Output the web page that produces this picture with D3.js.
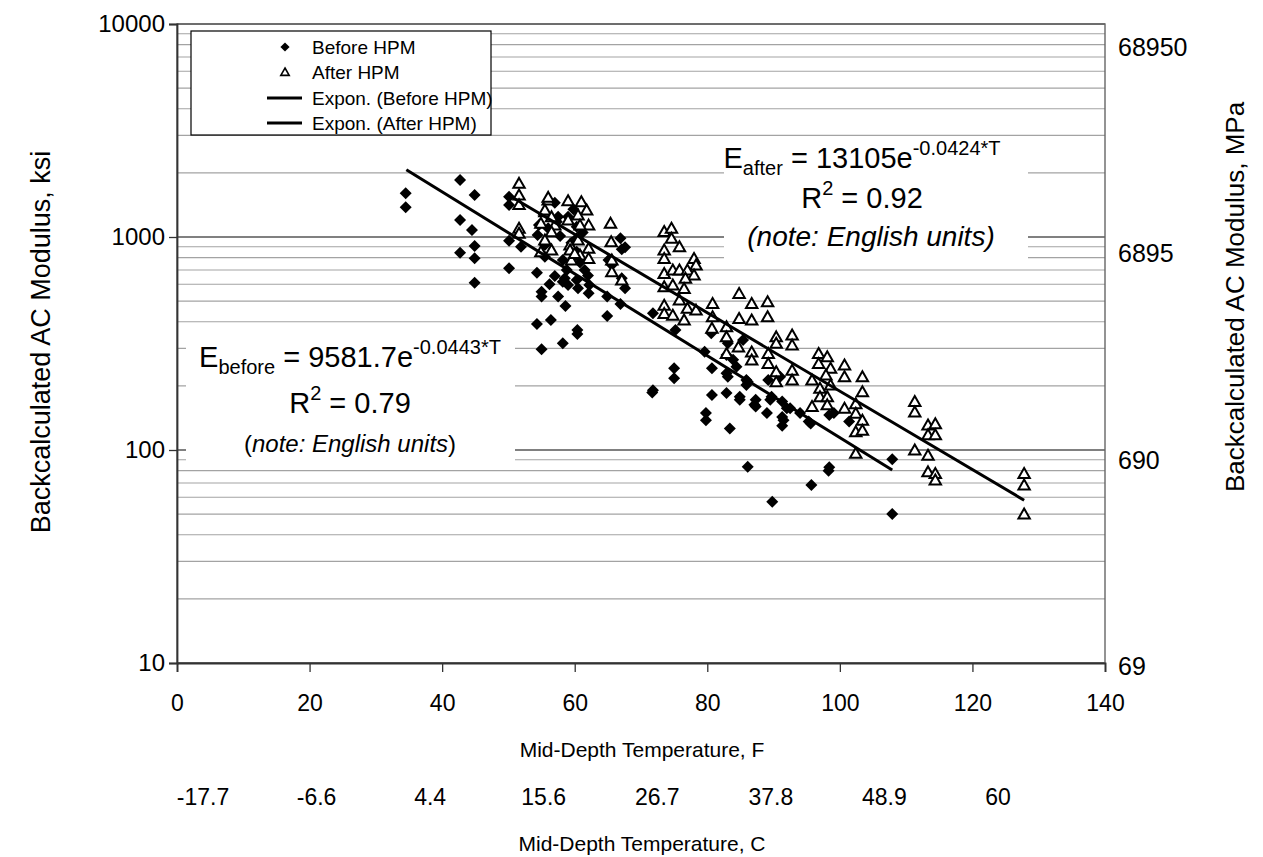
<!DOCTYPE html>
<html><head><meta charset="utf-8">
<script src="https://cdn.jsdelivr.net/npm/d3@7"></script>
<style>
body{margin:0;background:#fff}
text{font-family:"Liberation Sans", Arial, Helvetica, sans-serif;fill:#000}
</style>
</head><body>
<svg id="c" width="1263" height="857"></svg>
<script>
// ---------- data ----------
const xTicks = [0, 20, 40, 60, 80, 100, 120, 140];
const yTicks = [10, 100, 1000, 10000];
const cLabels = ["-17.7", "-6.6", "4.4", "15.6", "26.7", "37.8", "48.9", "60"];
const mpaLabels = [68950, 6895, 690, 69];

const beforeT = [34.5,34.5,42.7,42.7,42.7,44.5,44.9,44.9,44.9,44.9,
  50.1,50.1,50.1,50.1,51.9,
  54.3,55.0,55.0,54.3,56.4,55.0,58.2,60.4,60.4,
  57.0,58.5,57.5,58.6,60.3,60.5,62.1,62.2,
  64.9,66.9,64.9,66.9,67.1,67.6,65.1,65.6,67.6,
  54.6,54.4,57.0,57.5,55.5,55.5,58.2,60.3,60.3,60.3,59.0,58.2,59.0,
  56.0,57.8,59.5,61.5,62.0,58.8,60.8,56.2,61.2,59.8,57.3,
  67.1,
  71.8,75.2,79.6,80.7,75.0,75.0,71.8,71.7,83.1,84.4,85.9,80.7,82.9,84.9,80.6,83.1,85.4,
  79.8,79.8,82.9,84.9,83.4,86.1,87.3,87.1,89.0,89.5,91.3,91.5,92.5,94.0,95.3,82.9,83.9,
  85.9,87.3,91.3,95.6,86.1,89.8,95.7,98.4,98.3,99.1,101.4,
  89.2,89.7,91.3,92.0,91.0,98.4,107.9,107.9];
const beforeE = [1604,1378,1852,1202,844,1079,1575,907,794,610,
  1546,1413,961,713,901,
  680,554,525,390,408,297,317,366,350,
  656,640,525,474,628,574,544,595,
  525,485,426,986,876,894,780,739,574,
  1138,1022,1449,1245,917,808,780,853,986,1118,1245,617,595,
  1100,1010,940,700,660,700,760,600,1050,1350,1180,
  640,
  438,366,289,242,242,217,191,186,221,246,213,181,185,178,353,317,328,
  149,138,229,172,126,209,172,163,149,172,169,138,157,149,136,279,265,
  202,160,130,133,83.5,57.2,68.5,82.9,80,149,136,
  213,178,143,157,221,146,90.4,50.1];

const afterT = [51.6,51.6,51.6,51.6,51.6,
  56.0,56.0,55.5,55.5,59.0,61.0,61.8,59.0,60.5,62.1,57.0,56.5,54.9,55.5,59.3,60.5,60.8,59.3,62.1,60.8,59.5,62.1,65.4,65.5,65.6,65.6,67.1,54.9,56.5,56.5,60.0,
  73.5,74.6,74.6,75.8,73.5,73.5,78.0,78.3,73.5,74.8,75.8,77.0,78.0,76.7,73.5,74.8,76.5,73.5,73.5,74.8,77.0,75.8,78.3,76.5,
  80.8,80.8,80.7,84.8,86.7,89.1,89.1,86.7,84.8,82.9,82.9,84.7,86.7,86.7,82.9,89.2,89.2,90.4,90.4,92.8,92.8,90.4,90.4,92.8,92.8,95.8,96.8,96.8,98.1,98.6,97.9,97.0,97.0,95.8,98.1,98.1,98.6,100.7,100.7,103.4,103.4,102.4,100.7,102.4,103.4,102.4,103.4,102.4,
  111.3,111.3,113.3,114.4,113.3,114.4,111.3,113.3,113.3,114.4,114.4,
  127.8,127.8,127.8];
const afterE = [1787,1575,1420,1099,1041,
  1492,1536,1315,1339,1481,1465,1339,1202,1268,1138,1138,1059,1160,968,917,968,1138,869,885,823,780,794,1160,951,780,687,628,853,1245,869,838,
  1063,1099,986,901,869,794,794,739,675,700,700,700,663,640,584,595,574,479,438,430,463,506,454,408,
  488,423,373,544,488,497,423,408,415,379,340,305,289,265,284,284,255,340,317,347,311,233,209,237,213,213,284,255,274,242,225,195,178,160,178,163,202,251,221,221,188,165,157,149,138,122,124,96.5,
  169,151,131,133,118,118,100,94.6,79,77.6,72.4,
  77.6,68.5,50.1];

// trend lines (end points)
const trendBeforeT = [34.6, 107.9];
const trendBeforeE = [2068, 80.5];
const trendAfterT = [50.5, 127.8];
const trendAfterE = [1540, 58.1];

const legendLabels = ["Before HPM", "After HPM", "Expon. (Before HPM)", "Expon. (After HPM)"];

// ---------- layout ----------
const W = 1263, H = 857;
const P = {l: 177, r: 1105, t: 24, b: 663};
const FONT = "Liberation Sans, Arial, sans-serif";
const svg = d3.select("#c");
svg.append("rect").attr("width", W).attr("height", H).attr("fill", "#fff");

const x = d3.scaleLinear().domain([0, 140]).range([P.l, P.r]);
const y = d3.scaleLog().domain([10, 10000]).range([P.b, P.t]);

// gridlines
const grid = [];
[10, 100, 1000].forEach(d => { for (let k = 1; k < 10; k++) grid.push(k * d); });
grid.push(10000);
const isMajor = v => Math.abs(Math.log10(v) - Math.round(Math.log10(v))) < 1e-9;
svg.append("g").selectAll("line").data(grid).join("line")
  .attr("x1", P.l).attr("x2", P.r)
  .attr("y1", d => y(d)).attr("y2", d => y(d))
  .attr("stroke", d => isMajor(d) ? "#808080" : "#a3a3a3")
  .attr("stroke-width", d => isMajor(d) ? 1.8 : 1.1);

// plot frame
svg.append("rect").attr("x", P.l).attr("y", P.t).attr("width", P.r - P.l).attr("height", P.b - P.t)
  .attr("fill", "none").attr("stroke", "#666").attr("stroke-width", 1.4);

// axes
const gx = svg.append("g").attr("transform", `translate(0,${P.b})`)
  .call(d3.axisBottom(x).tickValues(xTicks).tickSize(9).tickPadding(23).tickFormat(d3.format("d")));
const gy = svg.append("g").attr("transform", `translate(${P.l},0)`)
  .call(d3.axisLeft(y).tickValues(yTicks).tickSize(8).tickPadding(4).tickFormat(d3.format("d")));
[gx, gy].forEach(g => {
  g.select(".domain").attr("stroke", "#333").attr("stroke-width", 1.8);
  g.selectAll(".tick line").attr("stroke", "#333").attr("stroke-width", 1.3);
  g.selectAll(".tick text").attr("font-family", FONT).attr("fill", "#000");
});
gx.selectAll(".tick text").attr("font-size", 23);
gy.selectAll(".tick text").attr("font-size", 24);

// Celsius labels (typed row under the F axis)
const xc = d3.scalePoint().domain(cLabels).range([203, 998]);
svg.append("g").selectAll("text").data(cLabels).join("text")
  .attr("x", d => xc(d)).attr("y", 797).attr("dy", "0.36em")
  .attr("text-anchor", "middle").attr("font-size", 23).text(d => d);

// right MPa labels
const yR = d3.scaleLog().domain([69, 68950]).range([666, 47]);
svg.append("g").selectAll("text").data(mpaLabels).join("text")
  .attr("x", 1118).attr("y", d => yR(d)).attr("dy", "0.36em")
  .attr("font-size", 25).text(d => d);

// axis titles
svg.append("text").attr("x", 642).attr("y", 749).attr("dy", "0.36em")
  .attr("text-anchor", "middle").attr("font-size", 21).text("Mid-Depth Temperature, F");
svg.append("text").attr("x", 642).attr("y", 843).attr("dy", "0.36em")
  .attr("text-anchor", "middle").attr("font-size", 21).text("Mid-Depth Temperature, C");
svg.append("text").attr("transform", "translate(40,342) rotate(-90)").attr("dy", "0.36em")
  .attr("text-anchor", "middle").attr("font-size", 27).text("Backcalculated AC Modulus, ksi");
svg.append("text").attr("transform", "translate(1235,297) rotate(-90)").attr("dy", "0.36em")
  .attr("text-anchor", "middle").attr("font-size", 26).text("Backcalculated AC Modulus, MPa");

// annotation boxes (white)
svg.append("rect").attr("x", 186).attr("y", 333).attr("width", 329).attr("height", 130).attr("fill", "#fff");
svg.append("rect").attr("x", 724).attr("y", 138).attr("width", 304).attr("height", 125).attr("fill", "#fff");

// markers
const diamond = r => `M0,${-r}L${r},0L0,${r}L${-r},0Z`;
const tri = s => `M0,${-s * 0.95}L${s},${s * 0.8}L${-s},${s * 0.8}Z`;

const before = beforeT.map((t, i) => ({t, e: beforeE[i]}));
const after = afterT.map((t, i) => ({t, e: afterE[i]}));

svg.append("g").selectAll("path").data(before).join("path")
  .attr("transform", d => `translate(${x(d.t)},${y(d.e)})`)
  .attr("d", diamond(6)).attr("fill", "#000");
svg.append("g").selectAll("path").data(after).join("path")
  .attr("transform", d => `translate(${x(d.t)},${y(d.e)})`)
  .attr("d", tri(5.7)).attr("fill", "#fff").attr("stroke", "#000").attr("stroke-width", 2);

// trend lines
const line = d3.line().x(d => x(d[0])).y(d => y(d[1]));
svg.append("path").attr("d", line(trendBeforeT.map((t, i) => [t, trendBeforeE[i]])))
  .attr("fill", "none").attr("stroke", "#000").attr("stroke-width", 3);
svg.append("path").attr("d", line(trendAfterT.map((t, i) => [t, trendAfterE[i]])))
  .attr("fill", "none").attr("stroke", "#000").attr("stroke-width", 3);

// annotation text
const eqB = svg.append("text").attr("x", 350).attr("y", 367).attr("text-anchor", "middle").attr("font-size", 29);
eqB.append("tspan").text("E");
eqB.append("tspan").attr("font-size", 20).attr("dy", 7).text("before");
eqB.append("tspan").attr("dy", -7).text(" = 9581.7e");
eqB.append("tspan").attr("font-size", 20).attr("dy", -13).text("-0.0443*T");
const r2B = svg.append("text").attr("x", 350).attr("y", 413).attr("text-anchor", "middle").attr("font-size", 29);
r2B.append("tspan").text("R");
r2B.append("tspan").attr("font-size", 20).attr("dy", -13).text("2");
r2B.append("tspan").attr("dy", 13).text(" = 0.79");
const nB = svg.append("text").attr("x", 350).attr("y", 452).attr("text-anchor", "middle").attr("font-size", 24);
nB.append("tspan").text("(");
nB.append("tspan").attr("font-style", "italic").text("note: English units");
nB.append("tspan").text(")");

const eqA = svg.append("text").attr("x", 862).attr("y", 168).attr("text-anchor", "middle").attr("font-size", 29);
eqA.append("tspan").text("E");
eqA.append("tspan").attr("font-size", 20).attr("dy", 7).text("after");
eqA.append("tspan").attr("dy", -7).text(" = 13105e");
eqA.append("tspan").attr("font-size", 20).attr("dy", -13).text("-0.0424*T");
const r2A = svg.append("text").attr("x", 862).attr("y", 208).attr("text-anchor", "middle").attr("font-size", 29);
r2A.append("tspan").text("R");
r2A.append("tspan").attr("font-size", 20).attr("dy", -13).text("2");
r2A.append("tspan").attr("dy", 13).text(" = 0.92");
svg.append("text").attr("x", 871).attr("y", 246).attr("text-anchor", "middle").attr("font-size", 28)
  .attr("font-style", "italic").text("(note: English units)");

// legend
const lg = svg.append("g");
lg.append("rect").attr("x", 191).attr("y", 31).attr("width", 300).attr("height", 104)
  .attr("fill", "#fff").attr("stroke", "#000").attr("stroke-width", 1.2);
const ly = [47, 72, 98, 123];
lg.append("path").attr("transform", `translate(285,${ly[0]})`).attr("d", diamond(4.6)).attr("fill", "#000");
lg.append("path").attr("transform", `translate(285,${ly[1]})`).attr("d", tri(4.2)).attr("fill", "#fff").attr("stroke", "#000").attr("stroke-width", 1.6);
[2, 3].forEach(i => lg.append("line").attr("x1", 267).attr("x2", 302).attr("y1", ly[i]).attr("y2", ly[i])
  .attr("stroke", "#000").attr("stroke-width", 3));
lg.selectAll("text.l").data(legendLabels).join("text").attr("class", "l")
  .attr("x", 312).attr("y", (d, i) => ly[i]).attr("dy", "0.36em").attr("font-size", 19).text(d => d);
</script>
</body></html>
